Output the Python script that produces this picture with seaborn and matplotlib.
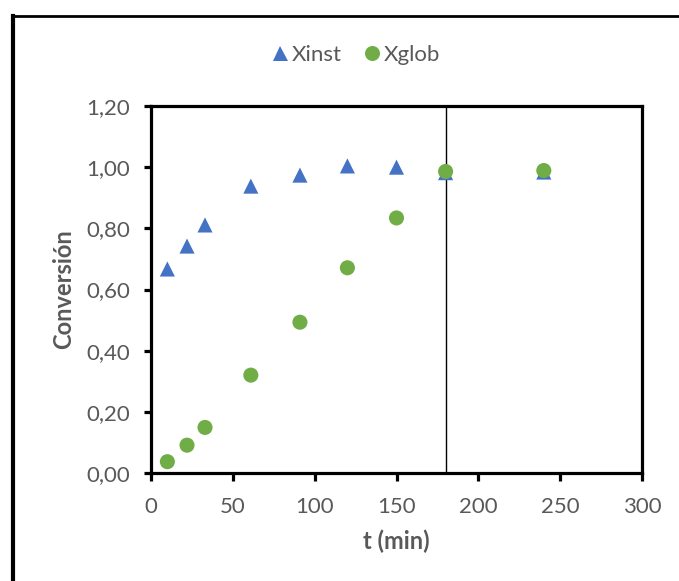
import matplotlib
matplotlib.use("Agg")
import matplotlib.pyplot as plt
from matplotlib.lines import Line2D
from matplotlib.ticker import FuncFormatter
import pandas as pd
import seaborn as sns

# Reaction time (min) and conversion values
t_min = [10, 22, 33, 61, 91, 120, 150, 180, 240]
x_inst = [0.667, 0.742, 0.811, 0.938, 0.974, 1.004, 1.000, 0.982, 0.984]
x_glob = [0.037, 0.091, 0.149, 0.320, 0.493, 0.671, 0.834, 0.986, 0.989]
series_names = ["Xinst", "Xglob"]
x_ticks = [0, 50, 100, 150, 200, 250, 300]
y_ticks = [0.0, 0.2, 0.4, 0.6, 0.8, 1.0, 1.2]
vline_t = 180

df = pd.DataFrame({
    "t": t_min * 2,
    "X": x_inst + x_glob,
    "serie": [series_names[0]] * len(t_min) + [series_names[1]] * len(t_min),
})

sns.set_theme(style="white")
plt.rcParams["font.family"] = ["Lato", "DejaVu Sans"]
grey = "#595959"
palette = {"Xinst": "#4472C4", "Xglob": "#70AD47"}
markers = {"Xinst": "^", "Xglob": "o"}

W, H = 679, 581
fig = plt.figure(figsize=(W / 100, H / 100), dpi=100)
ax = fig.add_axes([151 / W, 1 - 473 / H, (642 - 151) / W, (473 - 106) / H])

sns.scatterplot(data=df, x="t", y="X", hue="serie", style="serie",
                palette=palette, markers=markers, s=118, linewidth=0,
                ax=ax, legend=False, zorder=3)

ax.axvline(vline_t, color="black", lw=1.0, zorder=2)

ax.set_xlim(0, 300)
ax.set_ylim(0, 1.2)
ax.set_xticks(x_ticks)
ax.set_yticks(y_ticks)
ax.yaxis.set_major_formatter(FuncFormatter(lambda v, p: f"{v:.2f}".replace(".", ",")))
ax.xaxis.set_major_formatter(FuncFormatter(lambda v, p: f"{v:.0f}"))

for s in ax.spines.values():
    s.set_visible(True)
    s.set_color("black")
    s.set_linewidth(2.3)

ax.tick_params(axis="x", direction="out", length=6, width=2.3, color="black",
               pad=11, labelsize=16, labelcolor=grey, bottom=True)
ax.tick_params(axis="y", direction="out", length=5, width=2.3, color="black",
               pad=10, labelsize=16, labelcolor=grey, left=True)

ax.set_xlabel("t (min)", fontsize=17, fontweight="bold", color=grey, labelpad=9)
ax.set_ylabel("Conversión", fontsize=17, fontweight="bold", color=grey, labelpad=8)

# Legend across the top
handles = [
    Line2D([], [], ls="none", marker=markers[n], color=palette[n],
           markersize=10.8, markeredgewidth=0) for n in series_names
]
fig.legend(handles, series_names, loc="center", bbox_to_anchor=(0.523, 1 - 55 / H),
           ncol=2, frameon=False, fontsize=16, labelcolor=grey,
           handletextpad=0.1, columnspacing=0.9, handlelength=0.9)

# Partial outer frame (left and top edges)
fig.add_artist(Line2D([13 / W, 13 / W], [0, 1 - 16 / H], transform=fig.transFigure,
                      color="black", lw=3, solid_capstyle="projecting"))
fig.add_artist(Line2D([13 / W, 1], [1 - 16 / H, 1 - 16 / H], transform=fig.transFigure,
                      color="black", lw=2, solid_capstyle="projecting"))

fig.savefig("out.png", dpi=100)
